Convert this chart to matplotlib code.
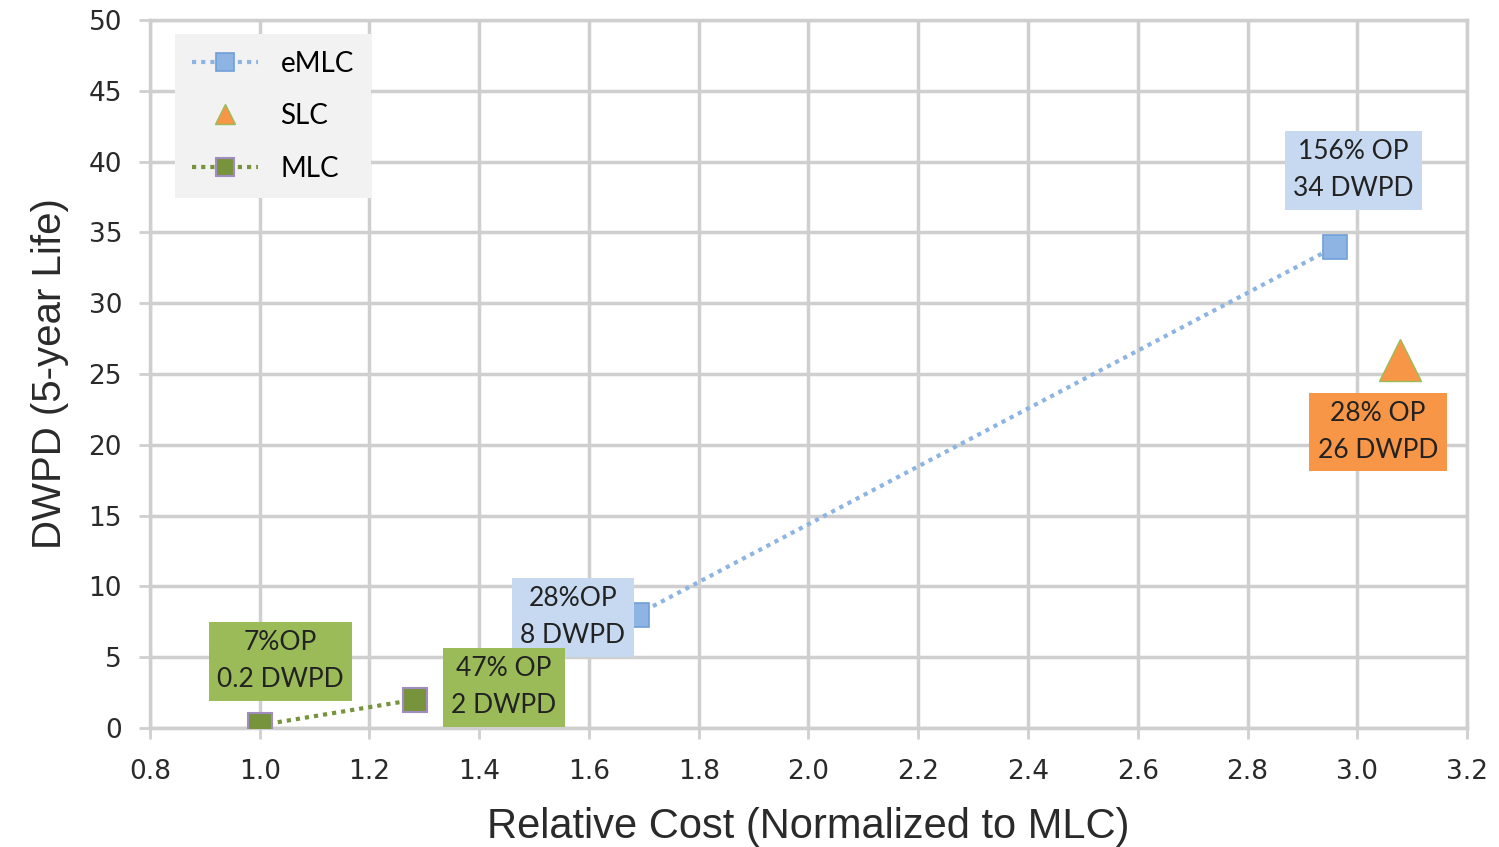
import matplotlib
matplotlib.use('Agg')
import matplotlib.pyplot as plt

# relative cost vs. endurance for each flash type
emlc_cost = [1.687, 2.96]
emlc_dwpd = [8, 34]
emlc_labels = ['28%OP\n8 DWPD', '156% OP\n34 DWPD']

slc_cost = [3.078]
slc_dwpd = [26]
slc_labels = ['28% OP\n26 DWPD']

mlc_cost = [1.0, 1.283]
mlc_dwpd = [0.2, 2]
mlc_labels = ['7%OP\n0.2 DWPD', '47% OP\n2 DWPD']

xticks = [0.8, 1.0, 1.2, 1.4, 1.6, 1.8, 2.0, 2.2, 2.4, 2.6, 2.8, 3.0, 3.2]
yticks = [0, 5, 10, 15, 20, 25, 30, 35, 40, 45, 50]

blue = '#8db4e2'
green = '#77933c'
orange = '#f79646'
label_font = 'Lato'

fig = plt.figure(figsize=(14.99, 8.47), dpi=100)
ax = fig.add_axes([0.1, 0.1405, 0.8787, 0.8359])

ax.plot(emlc_cost, emlc_dwpd, linestyle=(0, (1, 1.2)), color=blue, lw=3,
        marker='s', markersize=17, markerfacecolor=blue, markeredgecolor='#6f9fd8',
        markeredgewidth=1.2, label='eMLC', zorder=3)
ax.plot(slc_cost, slc_dwpd, linestyle='none', marker='^', markersize=30,
        markerfacecolor=orange, markeredgecolor='#9bbb59', markeredgewidth=1,
        label='SLC', zorder=3)
ax.plot(mlc_cost, mlc_dwpd, linestyle=(0, (1, 1.2)), color=green, lw=3,
        marker='s', markersize=17, markerfacecolor=green, markeredgecolor='#a08cc0',
        markeredgewidth=1.5, label='MLC', zorder=3)

# data labels, offset from their point (in points)
def add_labels(xs, ys, texts, offsets, face):
    for x, y, t, off in zip(xs, ys, texts, offsets):
        ax.annotate(t, (x, y), xytext=off, textcoords='offset points',
                    ha='center', va='center', fontsize=19, family=label_font,
                    color='#222222', linespacing=1.6, zorder=5,
                    bbox=dict(boxstyle='square,pad=0.32', fc=face, ec='none'))

add_labels(emlc_cost, emlc_dwpd, emlc_labels, [(-46, -2), (13, 55)], '#c6d9f1')
add_labels(slc_cost, slc_dwpd, slc_labels, [(-16, -52)], orange)
add_labels(mlc_cost, mlc_dwpd, mlc_labels, [(15, 46), (64, 9)], '#9bbb59')

ax.set_xlim(0.8, 3.2)
ax.set_ylim(0, 50)
ax.set_xticks(xticks)
ax.set_xticklabels(['%.1f' % v for v in xticks])
ax.set_yticks(yticks)
ax.grid(True, color='#cfcfcf', lw=2.5)
ax.set_axisbelow(True)
for s in ax.spines.values():
    s.set_color('#cfcfcf')
    s.set_linewidth(2.5)
ax.tick_params(colors='#cfcfcf', width=2, length=8, labelsize=19,
               labelcolor='#2a2a2a', direction='out')
ax.tick_params(axis='x', pad=14)
ax.tick_params(axis='y', pad=12)

ax.set_xlabel('Relative Cost (Normalized to MLC)', fontsize=30, color='#2a2a2a',
              family='Liberation Sans', labelpad=16)
ax.set_ylabel('DWPD (5-year Life)', fontsize=29, color='#2a2a2a',
              family='Liberation Sans', labelpad=14)

leg = ax.legend(loc='upper left', bbox_to_anchor=(0.019, 0.98), frameon=True,
                prop={'family': label_font, 'size': 20}, labelspacing=0.95,
                handlelength=2.4, handletextpad=0.8, borderpad=0.6,
                borderaxespad=0, markerscale=0.75, fancybox=False)
leg.get_frame().set_facecolor('#f2f2f2')
leg.get_frame().set_edgecolor('none')
leg.get_frame().set_alpha(1)
leg.legend_handles[1].set_markersize(15)

fig.savefig('out.png', dpi=100)
